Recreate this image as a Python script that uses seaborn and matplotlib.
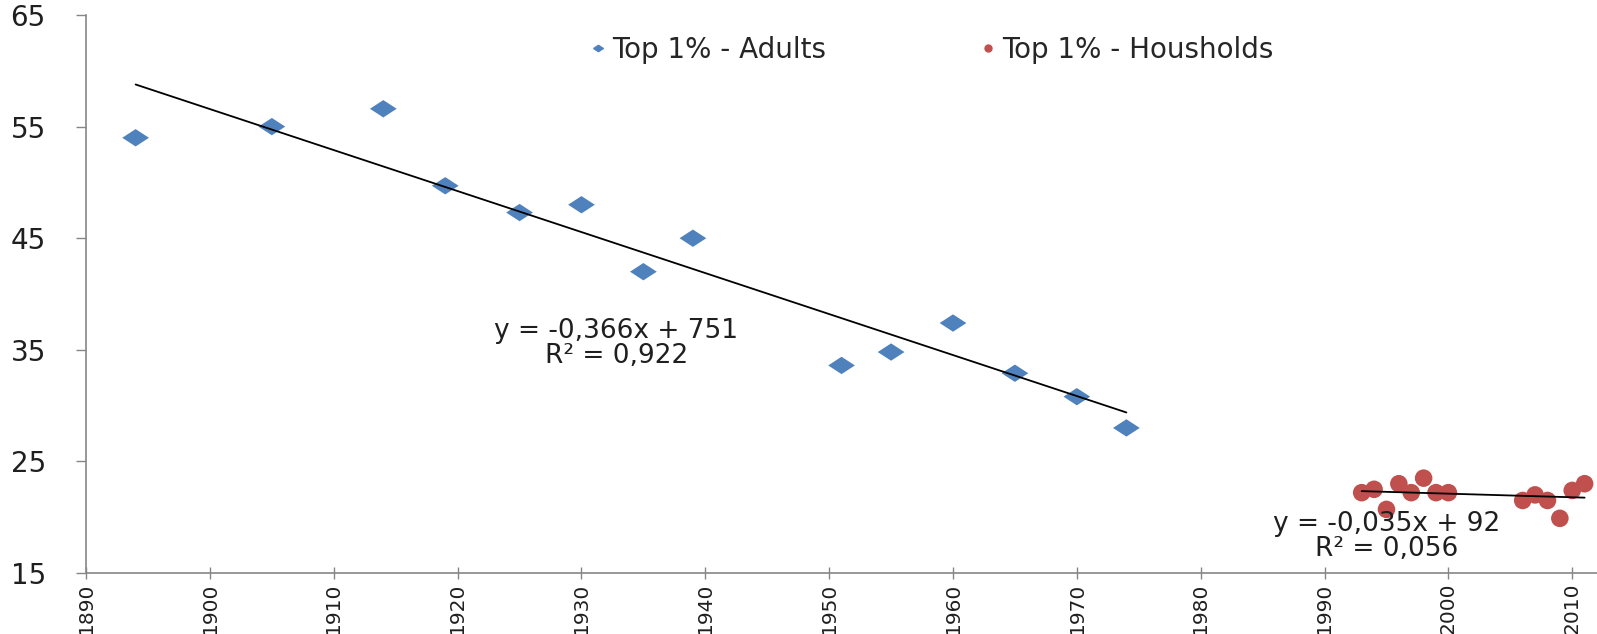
import numpy as np
import pandas as pd
import matplotlib
matplotlib.use("Agg")
import matplotlib.pyplot as plt
from matplotlib.lines import Line2D
import seaborn as sns

# Top 1% share
adult_years = [1894, 1905, 1914, 1919, 1925, 1930, 1935, 1939, 1951, 1955, 1960, 1965, 1970, 1974]
adult_share = [54.0, 55.0, 56.6, 49.7, 47.3, 48.0, 42.0, 45.0, 33.6, 34.8, 37.4, 32.9, 30.8, 28.0]

household_years = [1993, 1994, 1995, 1996, 1997, 1998, 1999, 2000, 2006, 2007, 2008, 2009, 2010, 2011]
household_share = [22.2, 22.5, 20.7, 23.0, 22.2, 23.5, 22.2, 22.2, 21.5, 22.0, 21.5, 19.9, 22.4, 23.0]

adult_label = "Top 1% - Adults"
household_label = "Top 1% - Housholds"
adult_eq = "y = -0,366x + 751\nR² = 0,922"
household_eq = "y = -0,035x + 92\nR² = 0,056"

x_ticks = list(range(1890, 2011, 10))
y_ticks = [15, 25, 35, 45, 55, 65]

sns.set_theme(style="white")
plt.rcParams['font.family'] = ['DejaVu Sans']

BLUE = '#4F81BD'
RED = '#C0504D'
AXIS = '#868686'
TEXT = '#1f1f1f'

adults = pd.DataFrame({'year': adult_years, 'share': adult_share})
households = pd.DataFrame({'year': household_years, 'share': household_share})

# Excel-style flattened diamond
diamond = [(-1, 0), (0, 0.65), (1, 0), (0, -0.65), (-1, 0)]

fig = plt.figure(figsize=(15.97, 6.34), dpi=100)
ax = fig.add_axes([0.0539, 0.0962, 0.9461, 0.8801])

sns.scatterplot(data=adults, x='year', y='share', marker=diamond, s=370,
                color=BLUE, edgecolor='none', ax=ax, legend=False)
sns.scatterplot(data=households, x='year', y='share', marker='o', s=160,
                color=RED, edgecolor='none', ax=ax, legend=False)

# linear trendlines over each data range
sns.regplot(data=adults, x='year', y='share', scatter=False, ci=None, truncate=True,
            color='black', line_kws={'linewidth': 1.3}, ax=ax)
sns.regplot(data=households, x='year', y='share', scatter=False, ci=None, truncate=True,
            color='black', line_kws={'linewidth': 1.3}, ax=ax)

ax.text(1932.8, 35.6, adult_eq, ha='center', va='center', fontsize=19,
        color=TEXT, linespacing=0.95)
ax.text(1995.0, 18.3, household_eq, ha='center', va='center', fontsize=19,
        color=TEXT, linespacing=0.95)

ax.set_xlim(1890, 2012)
ax.set_ylim(15, 65)
ax.set_xticks(x_ticks)
ax.set_yticks(y_ticks)
ax.set_xticklabels([str(t) for t in x_ticks], rotation=90)
ax.set_xlabel('')
ax.set_ylabel('')

for side in ['top', 'right']:
    ax.spines[side].set_visible(False)
for side in ['left', 'bottom']:
    ax.spines[side].set_color(AXIS)
    ax.spines[side].set_linewidth(1.2)

ax.tick_params(axis='y', direction='out', length=7, width=1, color=AXIS,
               labelsize=20, labelcolor=TEXT, pad=22, left=True)
ax.tick_params(axis='x', direction='inout', length=8, width=1, color=AXIS,
               labelsize=14.5, labelcolor=TEXT, pad=3, bottom=True)

handles = [
    Line2D([], [], marker=diamond, color=BLUE, linestyle='none', markersize=7),
    Line2D([], [], marker='o', color=RED, linestyle='none', markersize=5),
]
ax.legend(handles, [adult_label, household_label], ncol=2, frameon=False,
          loc='center', bbox_to_anchor=(0.56, 0.937), fontsize=20,
          handlelength=0.5, handletextpad=0.25, columnspacing=5.6)

fig.savefig('out.png', dpi=100, facecolor='white')
